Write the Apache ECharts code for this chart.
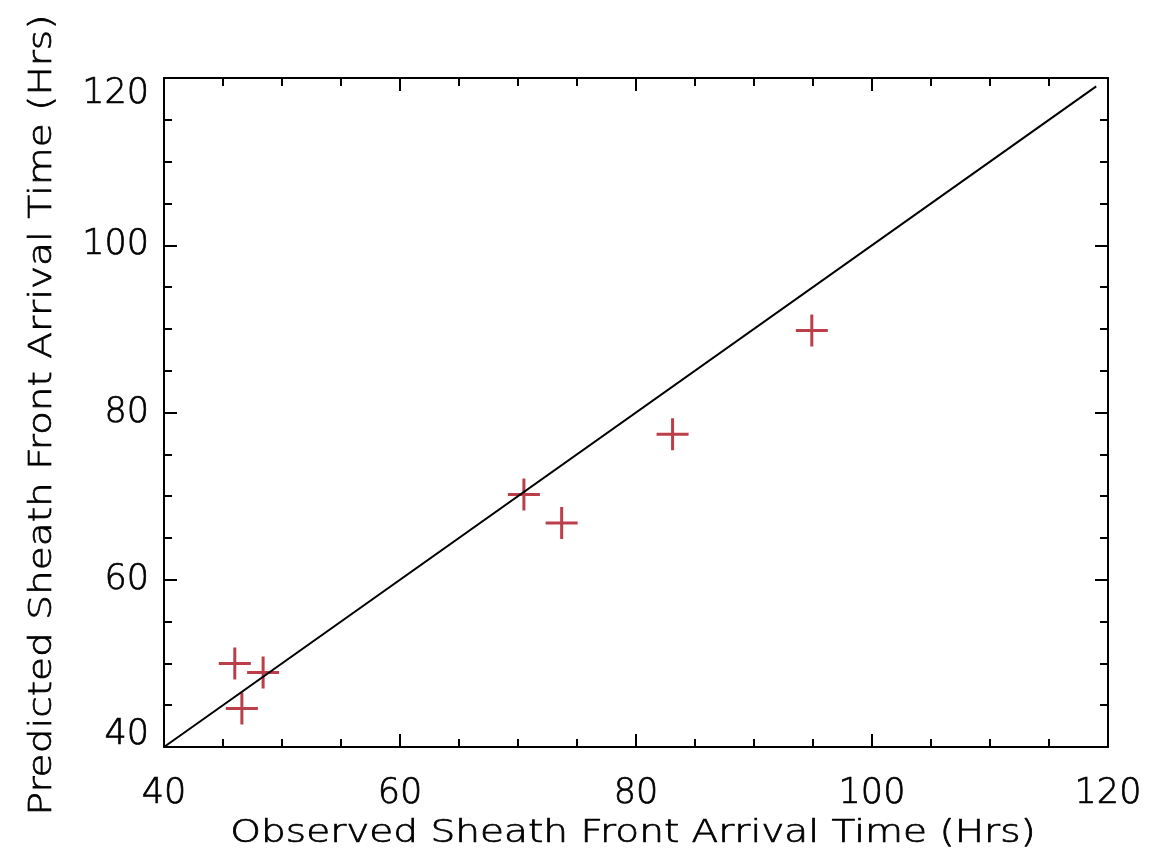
<!DOCTYPE html>
<html>
<head>
<meta charset="utf-8">
<script src="https://cdn.jsdelivr.net/npm/echarts@6/dist/echarts.min.js"></script>
<style>
  html, body { margin: 0; padding: 0; background: #fff; }
  #chart { width: 1156px; height: 865px; }
</style>
</head>
<body>
<div id="chart"></div>
<script>
// Observed vs predicted sheath front arrival times (hours)
const observed  = [46.0, 48.4, 46.6, 70.5, 73.7, 83.1, 94.9];
const predicted = [50.0, 48.9, 44.6, 70.2, 66.8, 77.4, 89.8];
// one-to-one reference line
const diagonal = [[40, 40], [119, 119]];
const axisTicks = [40, 60, 80, 100, 120];
const xTitle = 'Observed Sheath Front Arrival Time (Hrs)';
const yTitle = 'Predicted Sheath Front Arrival Time (Hrs)';

const FONT = 'DejaVu Sans';
const chart = echarts.init(document.getElementById('chart'), null, { renderer: 'canvas' });

const frameLine = { show: true, onZero: false, lineStyle: { color: '#000', width: 2 } };
const majorTick = { show: true, inside: true, length: 13, lineStyle: { color: '#000', width: 2 } };
const minorTick = { show: true, splitNumber: 4, length: 8, lineStyle: { color: '#000', width: 2 } };

// end labels on the vertical axis are nudged inward, as in the classic plot style
function yLabel(v) {
  if (v === axisTicks[axisTicks.length - 1]) return '{hi|' + v + '}';
  if (v === axisTicks[0]) return '{lo|' + v + '}';
  return '{n|' + v + '}';
}
// light lettering, thickened slightly with an outline of the same colour
const labelStyle = {
  fontFamily: FONT, fontSize: 35, fontWeight: 200, color: '#000',
  textBorderColor: '#000', textBorderWidth: 0.7
};

// wide lettering for the axis titles
const titleFont = '200 32px "DejaVu Sans"';
const titleStretch = 1.22;
const titleStyle = { font: titleFont, fill: '#000', stroke: '#000', lineWidth: 0.7, align: 'center', verticalAlign: 'middle' };

const option = {
  animation: false,
  grid: { left: 164, right: 48, top: 78, bottom: 118 },
  xAxis: [
    {
      type: 'value', min: 40, max: 120, interval: 20, position: 'bottom',
      axisLine: frameLine, axisTick: majorTick, minorTick: minorTick,
      splitLine: { show: false },
      axisLabel: Object.assign({ margin: 29 }, labelStyle)
    },
    {
      type: 'value', min: 40, max: 120, interval: 20, position: 'top',
      axisLine: frameLine, axisTick: majorTick, minorTick: minorTick,
      splitLine: { show: false }, axisLabel: { show: false }
    }
  ],
  yAxis: [
    {
      type: 'value', min: 40, max: 120, interval: 20, position: 'left',
      axisLine: frameLine, axisTick: majorTick, minorTick: minorTick,
      splitLine: { show: false },
      axisLabel: {
        margin: 15, formatter: yLabel,
        rich: {
          n: labelStyle,
          hi: Object.assign({ padding: [32, 0, 0, 0] }, labelStyle),
          lo: Object.assign({ padding: [0, 0, 24, 0] }, labelStyle)
        }
      }
    },
    {
      type: 'value', min: 40, max: 120, interval: 20, position: 'right',
      axisLine: frameLine, axisTick: majorTick, minorTick: minorTick,
      splitLine: { show: false }, axisLabel: { show: false }
    }
  ],
  graphic: [
    {
      type: 'text', x: 633, y: 834, scaleX: titleStretch,
      style: Object.assign({ text: xTitle }, titleStyle)
    },
    {
      type: 'text', x: 43, y: 415, rotation: Math.PI / 2, scaleX: titleStretch,
      style: Object.assign({ text: yTitle }, titleStyle)
    }
  ],
  series: [
    {
      type: 'line', data: diagonal, symbol: 'none',
      lineStyle: { color: '#000', width: 2 }, silent: true
    },
    {
      type: 'scatter', data: observed.map((x, i) => [x, predicted[i]]),
      symbol: 'path://M14.5,0 L17.5,0 L17.5,14.5 L32,14.5 L32,17.5 L17.5,17.5 L17.5,32 L14.5,32 L14.5,17.5 L0,17.5 L0,14.5 L14.5,14.5 Z',
      symbolSize: 32,
      itemStyle: { color: '#aa0e1a' }
    }
  ]
};
chart.setOption(option);
</script>
</body>
</html>
